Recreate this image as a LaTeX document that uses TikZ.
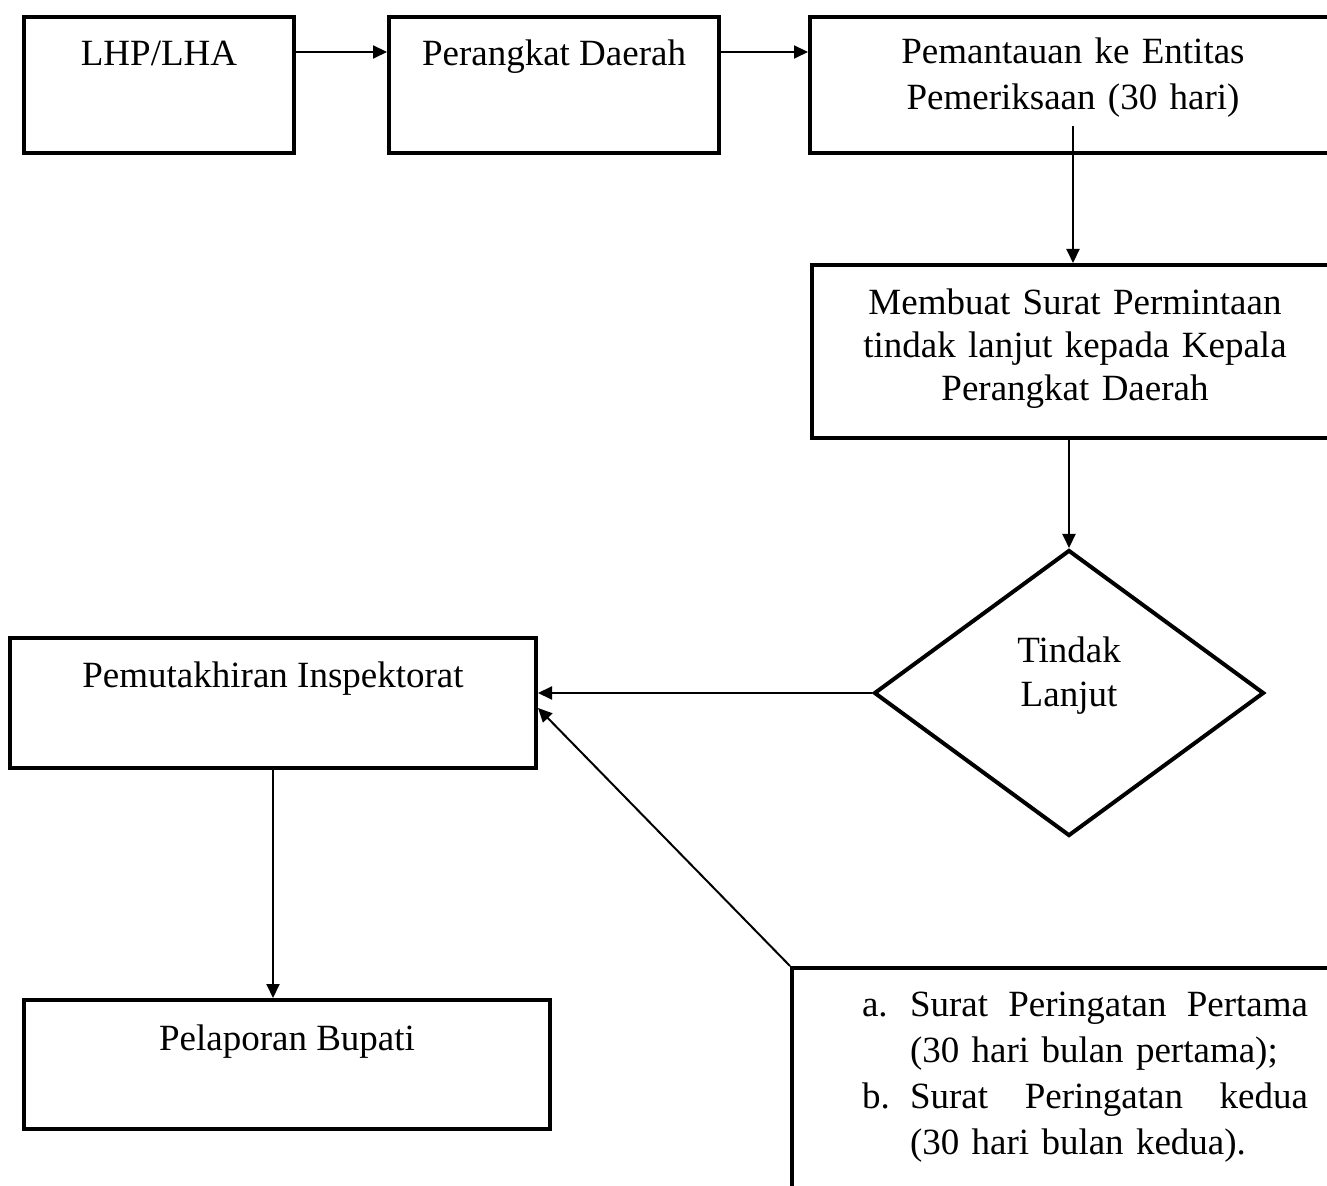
\documentclass[tikz,border=0pt]{standalone}
\usepackage{fontspec}
\setmainfont{Liberation Serif}
\usetikzlibrary{arrows.meta,shapes.geometric}
\tikzset{
  kotak/.style={draw,line width=2pt,inner sep=0pt,align=center,anchor=north west},
  panah/.style={-{Triangle[length=7pt,width=6.5pt]},line width=1pt}
}
\begin{document}
\begin{tikzpicture}[x=0.5pt,y=-0.5pt,font=\fontsize{18.5}{23}\selectfont]
  \path[use as bounding box,fill=white] (0,0) rectangle (1327,1186);
  \node[kotak,minimum width=135pt,text height=24.5pt,text depth=43.5pt] (lhp) at (22,15) {LHP/LHA};
  \node[kotak,minimum width=165pt,text height=24.5pt,text depth=43.5pt] (pd) at (387,15) {Perangkat Daerah};
  \node[kotak,minimum width=263pt,text width=230pt,text height=23.5pt,text depth=44.5pt] (pem) at (808,15) {Pemantauan ke Entitas\\Pemeriksaan (30 hari)};
  \node[kotak,minimum width=263pt,text width=240pt,text height=25pt,text depth=61.5pt,font=\fontsize{18.5}{21.5}\selectfont] (ms) at (810,263) {Membuat Surat Permintaan\\tindak lanjut kepada Kepala\\Perangkat Daerah};
  \node[diamond,draw,line width=2pt,inner sep=0pt,minimum width=195pt,minimum height=143pt,align=center,text width=60pt,text height=13pt,text depth=44pt,font=\fontsize{18.5}{22}\selectfont] (tl) at (1069,693) {Tindak\\Lanjut};
  \node[kotak,minimum width=263pt,text height=25pt,text depth=40pt] (pemut) at (8,636) {Pemutakhiran Inspektorat};
  \node[kotak,minimum width=263pt,text height=25pt,text depth=39.5pt] (pel) at (22,998) {Pelaporan Bupati};
  \node[kotak,align=left,minimum width=293pt,text width=223pt,text height=24pt,text depth=98pt] (sp) at (790,966)
    {\makebox[24pt][l]{a.}\makebox[199pt][l]{Surat\hfill Peringatan\hfill Pertama}\\
     \hspace*{24pt}(30 hari bulan pertama);\\
     \makebox[24pt][l]{b.}\makebox[199pt][l]{Surat\hfill Peringatan\hfill kedua}\\
     \hspace*{24pt}(30 hari bulan kedua).};
  \draw[panah] ([yshift=16.5pt]lhp.east) -- ([yshift=16.5pt]pd.west);
  \draw[panah] ([yshift=16.5pt]pd.east) -- ([yshift=16.5pt]pem.west);
  \draw[panah] ([yshift=14.5pt]pem.south) -- (pem.south |- ms.north);
  \draw[panah] (ms.south -| tl.north) -- (tl.north);
  \draw[panah] (tl.west) -- (tl.west -| pemut.east);
  \draw[panah] (sp.north west) -- ([yshift=-2.5pt]pemut.east);
  \draw[panah] (pemut.south) -- (pemut.south |- pel.north);
\end{tikzpicture}
\end{document}
